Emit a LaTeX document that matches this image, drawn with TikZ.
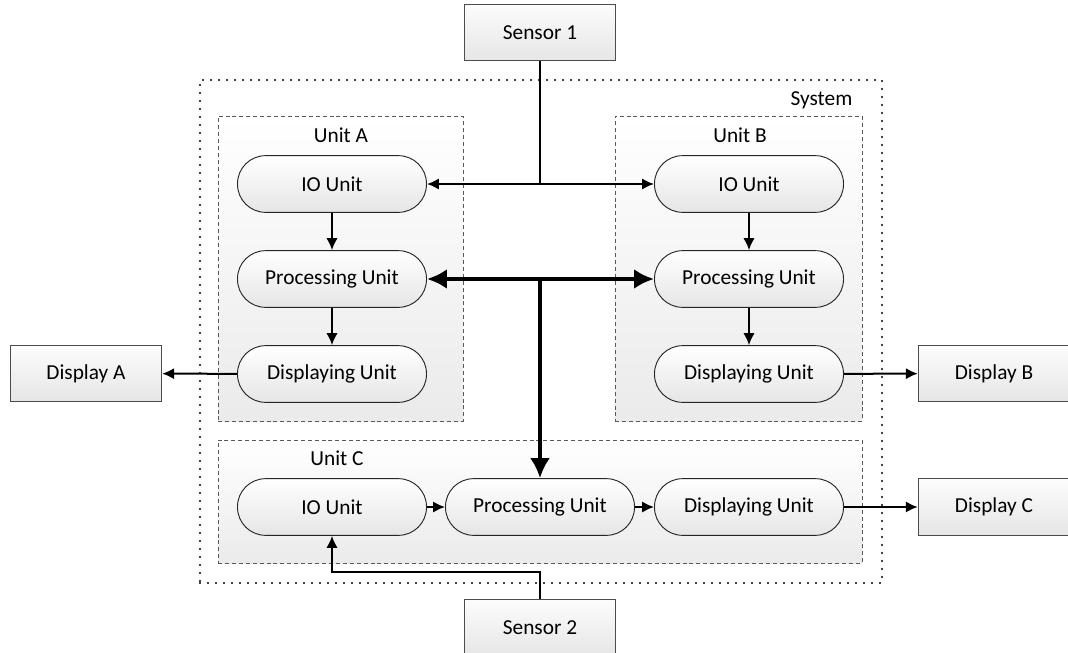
\documentclass[tikz,border=0pt]{standalone}
\usepackage{fontspec}
\setmainfont{Carlito}
\usetikzlibrary{arrows.meta}

\begin{document}
\begin{tikzpicture}[x=0.75pt,y=0.75pt,yscale=-1,xscale=1,
  font=\fontsize{16}{19}\selectfont,
  sysbox/.style={draw=black,line width=1.6pt,line cap=round,dash pattern=on 0pt off 6pt,inner sep=0pt,minimum width=511.5pt,minimum height=377.25pt},
  unitbox/.style={draw=black!65,line width=0.6pt,dash pattern=on 3pt off 2.2pt,top color=white,bottom color=black!8,inner sep=0pt},
  pill/.style={draw=black!85,line width=0.7pt,rounded corners=21pt,minimum width=141.75pt,minimum height=42.5pt,inner sep=0pt,top color=white,bottom color=black!10},
  extbox/.style={draw=black!70,line width=0.8pt,minimum width=113.5pt,minimum height=42.5pt,inner sep=0pt,top color=black!1,bottom color=black!10},
  link/.style={line width=1.5pt,>={Latex[length=9pt,width=8.5pt]},->},
  biglink/.style={line width=3pt,>={Latex[length=15pt,width=15pt]},->}
]
\useasboundingbox (0,0) rectangle (1068,653);

% system and its units
\node[sysbox] (system) at (541,331.5) {};
\node[anchor=east] (systemlbl) at (857,100) {System};

\node[unitbox,minimum width=183.75pt,minimum height=228.75pt] (unitA) at (340.5,268.5) {};
\node[unitbox,minimum width=185.25pt,minimum height=228.75pt] (unitB) at (738.5,268.5) {};
\node[unitbox,minimum width=483pt,minimum height=92.25pt] (unitC) at (540,501.5) {};
\node (unitAlbl) at (341,135) {Unit A};
\node (unitBlbl) at (740,135) {Unit B};
\node (unitClbl) at (337,458) {Unit C};

\node[pill] (ioA) at (332,184) {IO Unit};
\node[pill] (procA) at (332,279) {Processing Unit};
\node[pill] (dispA) at (332,374) {Displaying Unit};

\node[pill] (ioB) at (749,184) {IO Unit};
\node[pill] (procB) at (749,279) {Processing Unit};
\node[pill] (dispB) at (749,374) {Displaying Unit};

\node[pill] (ioC) at (332,507) {IO Unit};
\node[pill] (procC) at (540,507) {Processing Unit};
\node[pill] (dispC) at (749,507) {Displaying Unit};

% outside
\node[extbox] (sensor1) at (540,32.5) {Sensor 1};
\node[extbox] (sensor2) at (540,627.5) {Sensor 2};
\node[extbox] (displayA) at (86,373.5) {Display A};
\node[extbox] (displayB) at (994,373.5) {Display B};
\node[extbox] (displayC) at (994,507) {Display C};

\coordinate (s1join) at (540,184);
\coordinate (busjoin) at (540,279);
\coordinate (s2bend) at (540,572);

% connectors
\draw[link] (ioA) -- (procA);
\draw[link] (procA) -- (dispA);
\draw[link] (ioB) -- (procB);
\draw[link] (procB) -- (dispB);
\draw[link] (ioC) -- (procC);
\draw[link] (procC) -- (dispC);

\draw[line width=1.5pt] (sensor1) -- (s1join);
\draw[link,<->] (ioA) -- (ioB);
\draw[biglink,<->] (procA) -- (procB);
\draw[biglink] (busjoin) -- (procC);
\draw[link] (sensor2) -- (s2bend) -| (ioC);

\draw[link] (dispA) -- (displayA);
\draw[link] (dispB) -- (displayB);
\draw[link] (dispC) -- (displayC);

\end{tikzpicture}
\end{document}
